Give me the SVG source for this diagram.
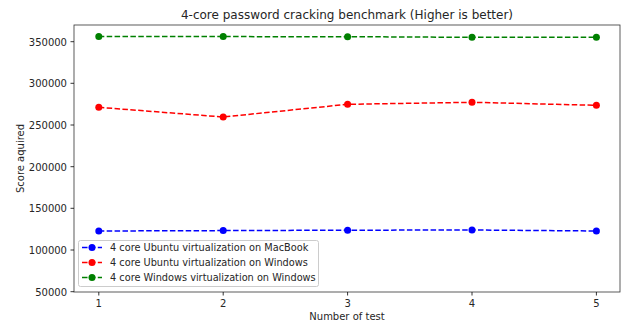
<svg xmlns="http://www.w3.org/2000/svg" width="621" height="326" viewBox="0 0 621 326">
<style>
text{font-family:"DejaVu Sans",sans-serif;fill:#262626}
.tk{font-size:10px}
.lg{font-size:9.75px}
.yl{text-anchor:end}
.xl{text-anchor:middle}
.tm{stroke:#000;stroke-width:0.8}
.ln{fill:none;stroke-width:1.5;stroke-dasharray:5.5,2.4}
.b{stroke:#0000ff}.bf{fill:#0000ff}
.r{stroke:#ff0000}.rf{fill:#ff0000}
.g{stroke:#008000}.gf{fill:#008000}
</style>
<rect width="621" height="326" fill="#fff"/>
<g id="axes">
<rect x="74" y="25" width="546" height="267" fill="none" stroke="#333" stroke-width="0.8"/>
<g class="tm">
<line x1="70.5" y1="41.7" x2="74" y2="41.7"/>
<line x1="70.5" y1="83.3" x2="74" y2="83.3"/>
<line x1="70.5" y1="125" x2="74" y2="125"/>
<line x1="70.5" y1="166.7" x2="74" y2="166.7"/>
<line x1="70.5" y1="208.3" x2="74" y2="208.3"/>
<line x1="70.5" y1="250" x2="74" y2="250"/>
<line x1="70.5" y1="291.7" x2="74" y2="291.7"/>
<line x1="98.8" y1="292" x2="98.8" y2="295.5"/>
<line x1="223.2" y1="292" x2="223.2" y2="295.5"/>
<line x1="347.6" y1="292" x2="347.6" y2="295.5"/>
<line x1="472" y1="292" x2="472" y2="295.5"/>
<line x1="596.4" y1="292" x2="596.4" y2="295.5"/>
</g>
<g class="tk yl">
<text x="67" y="45.5">350000</text>
<text x="67" y="87.1">300000</text>
<text x="67" y="128.8">250000</text>
<text x="67" y="170.5">200000</text>
<text x="67" y="212.1">150000</text>
<text x="67" y="253.8">100000</text>
<text x="67" y="295.5">50000</text>
</g>
<g class="tk xl">
<text x="98.8" y="307">1</text>
<text x="223.2" y="307">2</text>
<text x="347.6" y="307">3</text>
<text x="472" y="307">4</text>
<text x="596.4" y="307">5</text>
</g>
<text x="347" y="320" class="tk xl">Number of test</text>
<text transform="translate(24,158.5) rotate(-90)" class="tk xl">Score aquired</text>
<text x="347" y="19" class="xl" style="font-size:12px">4-core password cracking benchmark (Higher is better)</text>
</g>
<g id="connectors">
<polyline class="ln g" points="98.8,36.6 223.2,36.6 347.6,36.7 472,37.3 596.4,37.2"/>
<polyline class="ln r" points="98.8,107.3 223.2,117 347.6,104.3 472,102.3 596.4,105.3"/>
<polyline class="ln b" points="98.8,231 223.2,230.6 347.6,230.2 472,230 596.4,231"/>
</g>
<g id="green-series" class="gf">
<circle cx="98.8" cy="36.6" r="3.5"/><circle cx="223.2" cy="36.6" r="3.5"/><circle cx="347.6" cy="36.7" r="3.5"/><circle cx="472" cy="37.3" r="3.5"/><circle cx="596.4" cy="37.2" r="3.5"/>
</g>
<g id="red-series" class="rf">
<circle cx="98.8" cy="107.3" r="3.5"/><circle cx="223.2" cy="117" r="3.5"/><circle cx="347.6" cy="104.3" r="3.5"/><circle cx="472" cy="102.3" r="3.5"/><circle cx="596.4" cy="105.3" r="3.5"/>
</g>
<g id="blue-series" class="bf">
<circle cx="98.8" cy="231" r="3.5"/><circle cx="223.2" cy="230.6" r="3.5"/><circle cx="347.6" cy="230.2" r="3.5"/><circle cx="472" cy="230" r="3.5"/><circle cx="596.4" cy="231" r="3.5"/>
</g>
<g id="legend">
<rect x="78.5" y="240.5" width="240" height="46" rx="2" fill="#fff" fill-opacity="0.8" stroke="#ccc" stroke-width="1"/>
<line class="ln b" x1="82" y1="247.5" x2="102" y2="247.5"/><circle class="bf" cx="92" cy="247.5" r="3.5"/>
<line class="ln r" x1="82" y1="262.5" x2="102" y2="262.5"/><circle class="rf" cx="92" cy="262.5" r="3.5"/>
<line class="ln g" x1="82" y1="277.5" x2="102" y2="277.5"/><circle class="gf" cx="92" cy="277.5" r="3.5"/>
<text class="lg" x="110" y="251">4 core Ubuntu virtualization on MacBook</text>
<text class="lg" x="110" y="266">4 core Ubuntu virtualization on Windows</text>
<text class="lg" x="110" y="281">4 core Windows virtualization on Windows</text>
</g>
</svg>
